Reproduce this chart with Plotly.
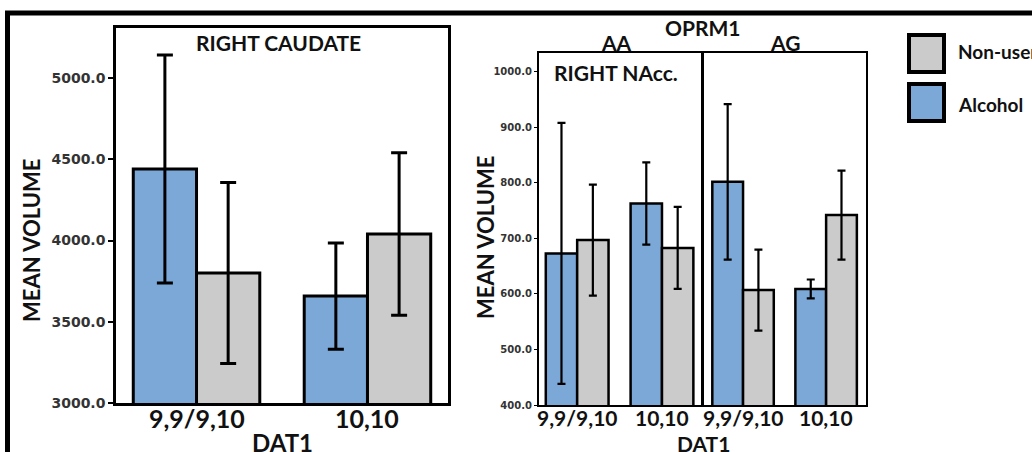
import plotly.graph_objects as go

W, H = 1032, 452

# ---------------- data ----------------
categories = ["9,9/9,10", "10,10"]

caudate_alcohol = [4440, 3658]
caudate_alcohol_err = [702, 327]
caudate_nonuser = [3800, 4040]
caudate_nonuser_err = [557, 500]

nacc_aa_alcohol = [673, 763]
nacc_aa_alcohol_err = [235, 74]
nacc_aa_nonuser = [697, 683]
nacc_aa_nonuser_err = [100, 74]

nacc_ag_alcohol = [802, 609]
nacc_ag_alcohol_err = [140, 17]
nacc_ag_nonuser = [607, 742]
nacc_ag_nonuser_err = [73, 80]

BLUE = "#7BA8D6"
GRAY = "#CBCBCB"
TITLE_FONT = "Lato"


def fx(x):
    return x / W


def fy(y):
    return 1 - y / H


fig = go.Figure()


def add_pair(alc, alc_err, non, non_err, xa, ya, lw, ew, ecap):
    fig.add_trace(go.Bar(
        x=categories, y=alc, name="Alcohol", xaxis=xa, yaxis=ya,
        marker=dict(color=BLUE, line=dict(color="black", width=lw)),
        error_y=dict(type="data", array=alc_err, color="black",
                     thickness=ew, width=ecap),
        showlegend=False))
    fig.add_trace(go.Bar(
        x=categories, y=non, name="Non-user", xaxis=xa, yaxis=ya,
        marker=dict(color=GRAY, line=dict(color="black", width=lw)),
        error_y=dict(type="data", array=non_err, color="black",
                     thickness=ew, width=ecap),
        showlegend=False))


add_pair(caudate_alcohol, caudate_alcohol_err, caudate_nonuser,
         caudate_nonuser_err, "x", "y", 3, 3, 8)
add_pair(nacc_aa_alcohol, nacc_aa_alcohol_err, nacc_aa_nonuser,
         nacc_aa_nonuser_err, "x2", "y2", 2.5, 2.2, 4)
add_pair(nacc_ag_alcohol, nacc_ag_alcohol_err, nacc_ag_nonuser,
         nacc_ag_nonuser_err, "x3", "y3", 2.5, 2.2, 4)

fig.update_layout(
    width=W, height=H,
    margin=dict(l=0, r=0, t=0, b=0),
    paper_bgcolor="white", plot_bgcolor="white",
    barmode="group", bargap=0.26, bargroupgap=0,
    xaxis=dict(domain=[fx(116), fx(448)], anchor="y", type="category",
               range=[-0.471, 1.471], showline=True, mirror=True,
               linecolor="black", linewidth=2.5, ticks="",
               showticklabels=False, showgrid=False, zeroline=False,
               automargin=False),
    yaxis=dict(domain=[fy(403), fy(28)], anchor="x", range=[3000, 5308],
               dtick=500, tickformat=".1f", showline=True, mirror=True,
               linecolor="black", linewidth=2.5, ticks="outside",
               ticklen=5, tickwidth=1.5, tickcolor="black",
               tickfont=dict(family="DejaVu Sans", size=14, color="#333",
                             weight="bold"),
               showgrid=False, zeroline=False, automargin=False),
    xaxis2=dict(domain=[fx(539), fx(701)], anchor="y2", type="category",
                range=[-0.45, 1.46], showline=True, mirror=True,
                linecolor="black", linewidth=2, ticks="",
                showticklabels=False, showgrid=False, zeroline=False,
                automargin=False),
    yaxis2=dict(domain=[fy(405), fy(53)], anchor="x2", range=[400, 1034],
                dtick=100, tickformat=".1f", showline=True, mirror=True,
                linecolor="black", linewidth=2, ticks="outside",
                ticklen=3, tickwidth=1, tickcolor="black",
                tickfont=dict(family="DejaVu Sans", size=10, color="#333",
                              weight="bold"),
                showgrid=False, zeroline=False, automargin=False),
    xaxis3=dict(domain=[fx(704), fx(866)], anchor="y3", type="category",
                range=[-0.47, 1.48], showline=True, mirror=True,
                linecolor="black", linewidth=2, ticks="",
                showticklabels=False, showgrid=False, zeroline=False,
                automargin=False),
    yaxis3=dict(domain=[fy(405), fy(53)], anchor="x3", range=[400, 1034],
                showline=True, mirror=True, linecolor="black", linewidth=2,
                showticklabels=False, ticks="", showgrid=False,
                zeroline=False, automargin=False),
)

ann = []


def text(x, y, s, size, xanchor="center", textangle=0, xref="paper"):
    ann.append(dict(x=fx(x) if xref == "paper" else x, y=fy(y),
                    xref=xref, yref="paper", text=s,
                    showarrow=False, xanchor=xanchor, yanchor="middle",
                    textangle=textangle,
                    font=dict(family=TITLE_FONT, size=size, color="#111",
                              weight="bold")))


# category labels placed on each panel's own x axis
for c in categories:
    text(c, 418, c, 25, xref="x")
    text(c, 417, c, 21, xref="x2")
    text(c, 417, c, 21, xref="x3")

text(278, 43, "RIGHT CAUDATE", 21)
text(282, 442, "DAT1", 24)
text(31, 240, "MEAN VOLUME", 22, textangle=-90)
text(485, 237, "MEAN VOLUME", 22, textangle=-90)
text(703, 27, "OPRM1", 21)
text(616, 43, "AA", 21)
text(785, 43, "AG", 21)
text(552, 72, "RIGHT NAcc.", 21, xanchor="left")
text(703, 443, "DAT1", 21)
text(956, 52, "Non-user", 19, xanchor="left")
text(956, 104, "Alcohol", 19, xanchor="left")
fig.update_layout(annotations=ann)

shapes = [
    # outer frame (top and left edges)
    dict(type="line", xref="paper", yref="paper", x0=fx(5), x1=1.02,
         y0=fy(13), y1=fy(13), line=dict(color="black", width=5)),
    dict(type="line", xref="paper", yref="paper", x0=fx(7.5), x1=fx(7.5),
         y0=fy(11), y1=-0.05, line=dict(color="black", width=5)),
    # legend swatches
    dict(type="rect", xref="paper", yref="paper", x0=fx(909), x1=fx(944),
         y0=fy(35), y1=fy(72), fillcolor=GRAY,
         line=dict(color="black", width=4)),
    dict(type="rect", xref="paper", yref="paper", x0=fx(909), x1=fx(944),
         y0=fy(84), y1=fy(121), fillcolor=BLUE,
         line=dict(color="black", width=4)),
]
fig.update_layout(shapes=shapes)

fig.write_html(
    "out.html",
    config={"displayModeBar": False},
    post_script="document.body.style.margin='0px';"
                "document.body.style.overflow='hidden';",
)
